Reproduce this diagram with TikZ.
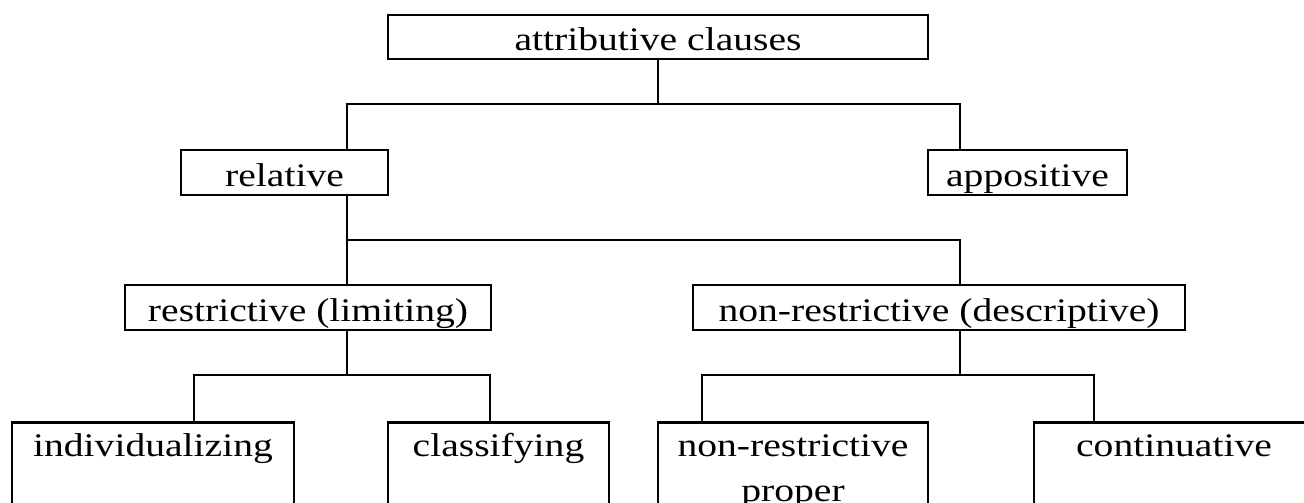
\documentclass[tikz,border=0pt]{standalone}
\usepackage{fontspec}
\setmainfont[FakeStretch=1.2]{Liberation Serif}

\tikzset{
    box/.style = {draw, line width = 2.5pt, inner sep = 0pt, minimum height = 45pt,
                  text height = 27pt, text depth = 0pt},
    leafbox/.style = {draw, line width = 2.5pt, inner sep = 0pt, anchor = north, align = center,
                  text height = 34pt, text depth = 120pt},
    link/.style = {line width = 2.5pt}
}

\begin{document}
\begin{tikzpicture}[x = 1pt, y = -1pt, font = \fontsize{33}{45}\selectfont]
    \path[use as bounding box, clip] (0, 0) rectangle (1304, 503);

    % boxes
    \node [box, minimum width = 540pt, minimum height = 44pt] (attr) at (658, 37) {attributive clauses};
    \node [box, minimum width = 207pt] (rel) at (284.5, 172.5) {relative};
    \node [box, minimum width = 199pt] (app) at (1027.5, 172.5) {appositive};
    \node [box, minimum width = 366pt] (restr) at (308, 307.5) {restrictive (limiting)};
    \node [box, minimum width = 492pt] (nonrestr) at (939, 307.5) {non-restrictive (descriptive)};

    \node [leafbox, minimum width = 282pt] (indiv) at (153, 421) {individualizing};
    \node [leafbox, minimum width = 221pt] (classif) at (498.5, 421) {classifying};
    % two lines: text height counts to the last line
    \node [leafbox, minimum width = 270pt, text height = 79pt] (nrproper) at (793, 421) {non-restrictive\\proper};
    \node [leafbox, minimum width = 280pt] (contin) at (1174, 421) {continuative};

    % bus corners
    \coordinate (b1l) at (347, 104);
    \coordinate (b1r) at (960, 104);
    \coordinate (b2l) at (347, 240);
    \coordinate (b2r) at (960, 240);
    \coordinate (b3l) at (194, 375);
    \coordinate (b3r) at (490, 375);
    \coordinate (b4l) at (702, 375);
    \coordinate (b4r) at (1094, 375);

    % connectors
    \draw [link] (attr.south) -- (attr.south |- b1l);
    \draw [link] (rel.north -| b1l) -- (b1l) -- (b1r) -- (app.north -| b1r);

    \draw [link] (rel.south -| b2l) -- (restr.north -| b2l);
    \draw [link] (b2l) -- (b2r) -- (nonrestr.north -| b2r);

    \draw [link] (restr.south -| b2l) -- (b2l |- b3l);
    \draw [link] (indiv.north -| b3l) -- (b3l) -- (b3r) -- (classif.north -| b3r);

    \draw [link] (nonrestr.south -| b2r) -- (b2r |- b4l);
    \draw [link] (nrproper.north -| b4l) -- (b4l) -- (b4r) -- (contin.north -| b4r);
\end{tikzpicture}
\end{document}
